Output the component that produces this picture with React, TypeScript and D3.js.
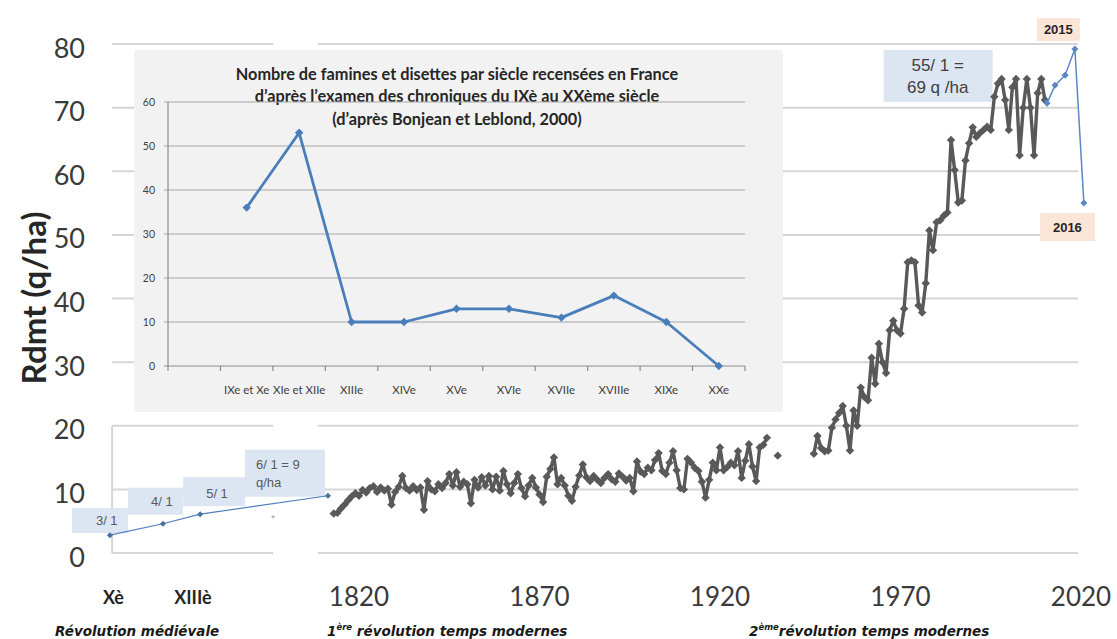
import React from "react";
import * as d3 from "d3";

const W = 1117;
const H = 639;

// ---------- Main chart data: wheat yield (q/ha) ----------
const Y_TICKS = [0, 10, 20, 30, 40, 50, 60, 70, 80];
const X_TICK_YEARS = [1820, 1870, 1920, 1970, 2020];

const SEG1_START = 1813;
const SEG1_VALUES = [
  6.2, 6.3, 7.0, 7.6, 8.3, 8.9, 9.4, 9.0, 9.9, 9.5,
  10.2, 10.5, 9.6, 10.3, 9.8, 10.1, 7.6, 9.6, 10.4, 12.1,
  10.2, 9.8, 10.5, 9.9, 10.3, 6.8, 11.3, 10.0, 9.7, 10.8,
  10.2, 11.0, 12.4, 10.6, 12.7, 10.4, 11.2, 10.8, 7.8, 11.5,
  10.3, 11.9, 10.6, 12.1, 10.0, 12.0, 9.8, 12.9, 10.8, 9.4,
  11.0, 12.4, 10.2, 8.9, 10.6, 11.8, 10.3, 9.2, 8.0, 12.0,
  13.2, 15.0, 10.8, 11.8, 10.6, 9.0, 8.2, 10.4, 12.2, 13.9,
  11.9, 11.3, 12.1, 11.5, 11.0, 11.8, 12.4, 11.6, 11.2, 12.5,
  12.0, 11.4, 11.8, 9.7, 14.4, 12.8, 12.4, 13.4, 13.0, 14.6,
  15.7, 12.9, 12.4, 14.2, 16.0, 13.0, 10.2, 10.0, 14.8, 14.2,
  13.4, 12.9, 11.2, 8.7, 11.5, 14.2, 13.0, 16.6, 13.0, 13.5,
  14.2, 13.8, 16.0, 11.8, 14.5, 17.1, 13.6, 11.3, 16.6, 17.0,
  18.1,
];
const ISOLATED_YEAR = 1936;
const ISOLATED_VALUE = 15.3;

const SEG2_START = 1946;
const SEG2_VALUES = [
  15.6, 18.4, 16.5, 16.0, 16.1, 19.7, 21.0, 22.0, 23.1, 20.0,
  16.1, 22.4, 20.0, 26.0, 24.5, 24.0, 30.7, 26.6, 32.9, 30.0,
  28.3, 35.0, 36.5, 35.0, 34.5, 38.4, 45.7, 46.0, 45.7, 38.9,
  37.8, 42.4, 50.7, 47.6, 52.0, 52.3, 53.0, 53.5, 64.9, 60.2,
  55.1, 55.4, 61.7, 64.4, 66.9, 65.4, 66.0, 66.5, 67.0, 66.5,
  71.7, 73.8, 74.5, 71.2, 66.5, 73.2, 74.5, 62.5, 70.0, 74.5,
  70.0, 62.5, 72.3, 74.5, 71.2,
];

// recent points (drawn in blue), positions on the axis as they appear
const RECENT_POS = [2010.6, 2012.8, 2015.6, 2018.3, 2020.8];
const RECENT_VALUES = [70.7, 73.5, 75.1, 79.2, 55.0];
const RECENT_LABELS = ["", "", "", "2015", "2016"];

// medieval ratios (grain harvested per grain sown)
const MEDIEVAL_POS = [1751, 1765.7, 1776, 1811.4];
const MEDIEVAL_VALUES = [2.8, 4.6, 6.1, 9.0];
const MEDIEVAL_LABELS = [["3/ 1"], ["4/ 1"], ["5/ 1"], ["6/ 1 = 9", "q/ha"]];
const MEDIEVAL_TICKS = ["Xè", "XIIIè"];
const MEDIEVAL_TICK_POS = [1752, 1774];
const STRAY_POINT = [1796.2, 5.7];

const MODERN_NOTE = ["55/ 1 =", "69 q /ha"];
const MODERN_NOTE_POS = [1980.3, 75];

const ERA_LABELS = [
  { main: "Révolution médiévale", sup: "", pre: "" },
  { pre: "1", sup: "ère", main: " révolution temps modernes" },
  { pre: "2", sup: "ème", main: "révolution temps modernes" },
];

// ---------- Inset data: famines per century ----------
const INSET_TITLE = [
  "Nombre de famines et disettes par siècle recensées en France",
  "d’après l’examen des chroniques du IXè au XXème siècle",
  "(d’après Bonjean et Leblond, 2000)",
];
const INSET_CATEGORIES = ["", "IXe et Xe", "XIe et XIIe", "XIIIe", "XIVe", "XVe", "XVIe", "XVIIe", "XVIIIe", "XIXe", "XXe"];
const INSET_VALUES: (number | null)[] = [null, 36, 53, 10, 10, 13, 13, 11, 16, 10, 0];
const INSET_TICKS = [0, 10, 20, 30, 40, 50, 60];

// ---------- Layout ----------
const GRID_SPANS = [
  [1751.6, 1796.2],
  [1808.6, 2019.2],
];
const MEDIEVAL_BOX = [
  { dx0: -38, dx1: 18, dy0: -27, dy1: -2, tx: -14, ty: -15 },
  { dx0: -35, dx1: 20, dy0: -36, dy1: -9, tx: -12, ty: -22 },
  { dx0: -17, dx1: 45, dy0: -37, dy1: -8, tx: 6, ty: -21 },
  { dx0: -83, dx1: -3, dy0: -46, dy1: 1, tx: -72, ty: -31 },
];
const RECENT_BOX: Record<string, any> = {
  "2015": { dx0: -38, dx1: 5, dy0: -31, dy1: -8 },
  "2016": { dx0: -44, dx1: 11, dy0: 10, dy1: 38 },
};
const ERA_X = [55, 327, 749];

const LATO = "Lato, 'Open Sans', sans-serif";
const ARIAL = "'Liberation Sans', Arial, sans-serif";
const WIDE = "'DejaVu Sans', Verdana, sans-serif";

const diamond = (r: number) => `M0,${-r}L${r},0L0,${r}L${-r},0Z`;

export default function App() {
  const x = d3.scaleLinear().domain([1820, 2020]).range([359, 1081]);
  const y = d3.scaleLinear().domain([0, 80]).range([553, 44]);

  type P = { t: number; v: number | null };
  const greyPts: P[] = [];
  SEG1_VALUES.forEach((v, i) => greyPts.push({ t: SEG1_START + i, v }));
  const lastSeg1 = SEG1_START + SEG1_VALUES.length - 1;
  for (let t = lastSeg1 + 1; t < ISOLATED_YEAR; t++) greyPts.push({ t, v: null });
  greyPts.push({ t: ISOLATED_YEAR, v: ISOLATED_VALUE });
  for (let t = ISOLATED_YEAR + 1; t < SEG2_START; t++) greyPts.push({ t, v: null });
  SEG2_VALUES.forEach((v, i) => greyPts.push({ t: SEG2_START + i, v }));

  const line = d3
    .line<P>()
    .defined((d) => d.v != null)
    .x((d) => x(d.t))
    .y((d) => y(d.v as number));

  const recentPts: P[] = [
    { t: SEG2_START + SEG2_VALUES.length - 1, v: SEG2_VALUES[SEG2_VALUES.length - 1] },
    ...RECENT_POS.map((t, i) => ({ t, v: RECENT_VALUES[i] })),
  ];
  const medPts: P[] = MEDIEVAL_POS.map((t, i) => ({ t, v: MEDIEVAL_VALUES[i] }));

  // inset scales
  const ix = d3.scaleBand<string>().domain(INSET_CATEGORIES).range([168, 745]).padding(0);
  const iy = d3.scaleLinear().domain([0, 60]).range([366, 102]);
  const insetPts = INSET_CATEGORIES.map((c, i) => ({ c, v: INSET_VALUES[i] }));
  const insetLine = d3
    .line<{ c: string; v: number | null }>()
    .defined((d) => d.v != null)
    .x((d) => (ix(d.c) as number) + ix.bandwidth() / 2)
    .y((d) => iy(d.v as number));

  const gridColor = "#d6d6d6";

  return (
    <svg width={W} height={H} style={{ position: "absolute", left: 0, top: 0, background: "#fff" }}>
      {/* main gridlines */}
      {Y_TICKS.map((t) =>
        GRID_SPANS.map((s, k) => (
          <line key={`g${t}-${k}`} x1={x(s[0])} x2={x(s[1])} y1={y(t)} y2={y(t)} stroke={gridColor} strokeWidth={2} />
        ))
      )}
      <line x1={x(GRID_SPANS[0][0])} x2={x(GRID_SPANS[0][0])} y1={y(20)} y2={y(0)} stroke={gridColor} strokeWidth={2} />

      {/* y tick labels */}
      {Y_TICKS.map((t) => (
        <text key={`yt${t}`} x={85} y={y(t) + 3} textAnchor="end" dominantBaseline="central" fontFamily={LATO} fontSize={27} fill="#3a3a3a">
          {t}
        </text>
      ))}
      <text
        transform={`translate(33, ${298}) rotate(-90)`}
        textAnchor="middle"
        dominantBaseline="central"
        fontFamily={LATO}
        fontWeight="bold"
        fontSize={33}
        fill="#262626"
      >
        Rdmt (q/ha)
      </text>

      {/* x tick labels */}
      {X_TICK_YEARS.map((t) => (
        <text key={`xt${t}`} x={x(t)} y={596} textAnchor="middle" dominantBaseline="central" fontFamily={LATO} fontSize={26} fill="#3a3a3a">
          {t}
        </text>
      ))}
      {MEDIEVAL_TICKS.map((l, i) => (
        <text key={`mt${i}`} x={x(MEDIEVAL_TICK_POS[i])} y={597} textAnchor="middle" dominantBaseline="central" fontFamily={LATO} fontWeight="bold" fontSize={18} fill="#262626">
          {l}
        </text>
      ))}
      {ERA_LABELS.map((e, i) => (
        <text key={`era${i}`} x={ERA_X[i]} y={636} fontFamily={WIDE} fontWeight="bold" fontStyle="italic" fontSize={13.5} fill="#1a1a1a">
          {e.pre}
          {e.sup ? (
            <>
              <tspan dy={-6} fontSize={8.5}>{e.sup}</tspan>
              <tspan dy={6}>{e.main}</tspan>
            </>
          ) : (
            e.main
          )}
        </text>
      ))}

      {/* medieval series */}
      {medPts.map((p, i) => {
        const b = MEDIEVAL_BOX[i];
        const px = x(p.t);
        const py = y(p.v as number);
        return (
          <g key={`mb${i}`}>
            <rect x={px + b.dx0} y={py + b.dy0} width={b.dx1 - b.dx0} height={b.dy1 - b.dy0} fill="#dce6f2" />
            {MEDIEVAL_LABELS[i].map((l, j) => (
              <text key={j} x={px + b.tx} y={py + b.ty + j * 18} dominantBaseline="central" fontFamily={ARIAL} fontSize={13} fill="#595959">
                {l}
              </text>
            ))}
          </g>
        );
      })}
      <path d={line(medPts) || ""} fill="none" stroke="#4f81bd" strokeWidth={1.2} />
      {medPts.map((p, i) => (
        <path key={`mp${i}`} d={diamond(3)} transform={`translate(${x(p.t)},${y(p.v as number)})`} fill="#4a6f9c" />
      ))}
      <circle cx={x(STRAY_POINT[0])} cy={y(STRAY_POINT[1])} r={1.6} fill="#b8b8b8" />

      {/* modern note */}
      <rect x={x(MODERN_NOTE_POS[0]) - 54} y={y(MODERN_NOTE_POS[1]) - 26} width={109} height={52} fill="#dce6f2" />
      {MODERN_NOTE.map((l, j) => (
        <text key={`mn${j}`} x={x(MODERN_NOTE_POS[0])} y={y(MODERN_NOTE_POS[1]) - 10 + j * 22} textAnchor="middle" dominantBaseline="central" fontFamily={ARIAL} fontSize={17} fill="#404040">
          {l}
        </text>
      ))}

      {/* grey series */}
      <path d={line(greyPts) || ""} fill="none" stroke="#595959" strokeWidth={3.4} strokeLinejoin="round" />
      {greyPts
        .filter((p) => p.v != null)
        .map((p, i) => (
          <path key={`gp${i}`} d={diamond(4.2)} transform={`translate(${x(p.t)},${y(p.v as number)})`} fill="#595959" />
        ))}

      {/* recent series */}
      <path d={line(recentPts) || ""} fill="none" stroke="#5b87c7" strokeWidth={1.5} />
      {recentPts.slice(1).map((p, i) => (
        <path key={`rp${i}`} d={diamond(3.5)} transform={`translate(${x(p.t)},${y(p.v as number)})`} fill="#5b87c7" />
      ))}
      {RECENT_LABELS.map((l, i) => {
        if (!l) return null;
        const b = RECENT_BOX[l];
        const px = x(RECENT_POS[i]);
        const py = y(RECENT_VALUES[i]);
        return (
          <g key={`rl${i}`}>
            <rect x={px + b.dx0} y={py + b.dy0} width={b.dx1 - b.dx0} height={b.dy1 - b.dy0} fill="#fbe5d6" />
            <text x={px + (b.dx0 + b.dx1) / 2} y={py + (b.dy0 + b.dy1) / 2} textAnchor="middle" dominantBaseline="central" fontFamily={ARIAL} fontWeight="bold" fontSize={13} fill="#262626">
              {l}
            </text>
          </g>
        );
      })}

      {/* inset */}
      <rect x={134} y={50} width={649} height={362} rx={3} fill="#f2f2f2" />
      {INSET_TITLE.map((l, j) => (
        <text key={`it${j}`} x={457} y={73 + j * 22.5} textAnchor="middle" dominantBaseline="central" fontFamily={LATO} fontWeight="bold" fontSize={16.3} fill="#262626">
          {l}
        </text>
      ))}
      {INSET_TICKS.map((t) => (
        <g key={`ig${t}`}>
          <line x1={164} x2={745} y1={iy(t)} y2={iy(t)} stroke={t === 0 ? "#8c8c8c" : "#a6a6a6"} strokeWidth={1.2} />
          <text x={155} y={iy(t)} textAnchor="end" dominantBaseline="central" fontFamily={LATO} fontSize={10.5} fill="#404040">
            {t}
          </text>
        </g>
      ))}
      <line x1={168} x2={168} y1={iy(60)} y2={iy(0)} stroke="#8c8c8c" strokeWidth={1.2} />
      {[...INSET_CATEGORIES.map((c) => ix(c) as number), 745].map((tx, i) => (
        <line key={`itk${i}`} x1={tx} x2={tx} y1={iy(0)} y2={iy(0) + 5} stroke="#8c8c8c" strokeWidth={1.2} />
      ))}
      {INSET_CATEGORIES.map((c, i) =>
        c ? (
          <text key={`ic${i}`} x={(ix(c) as number) + ix.bandwidth() / 2} y={389} textAnchor="middle" dominantBaseline="central" fontFamily={LATO} fontSize={11.5} fill="#404040">
            {c}
          </text>
        ) : null
      )}
      <path d={insetLine(insetPts) || ""} fill="none" stroke="#4a7ebb" strokeWidth={2.8} strokeLinejoin="round" />
      {insetPts
        .filter((p) => p.v != null)
        .map((p, i) => (
          <path key={`ip${i}`} d={diamond(4.2)} transform={`translate(${(ix(p.c) as number) + ix.bandwidth() / 2},${iy(p.v as number)})`} fill="#4a7ebb" />
        ))}
    </svg>
  );
}
